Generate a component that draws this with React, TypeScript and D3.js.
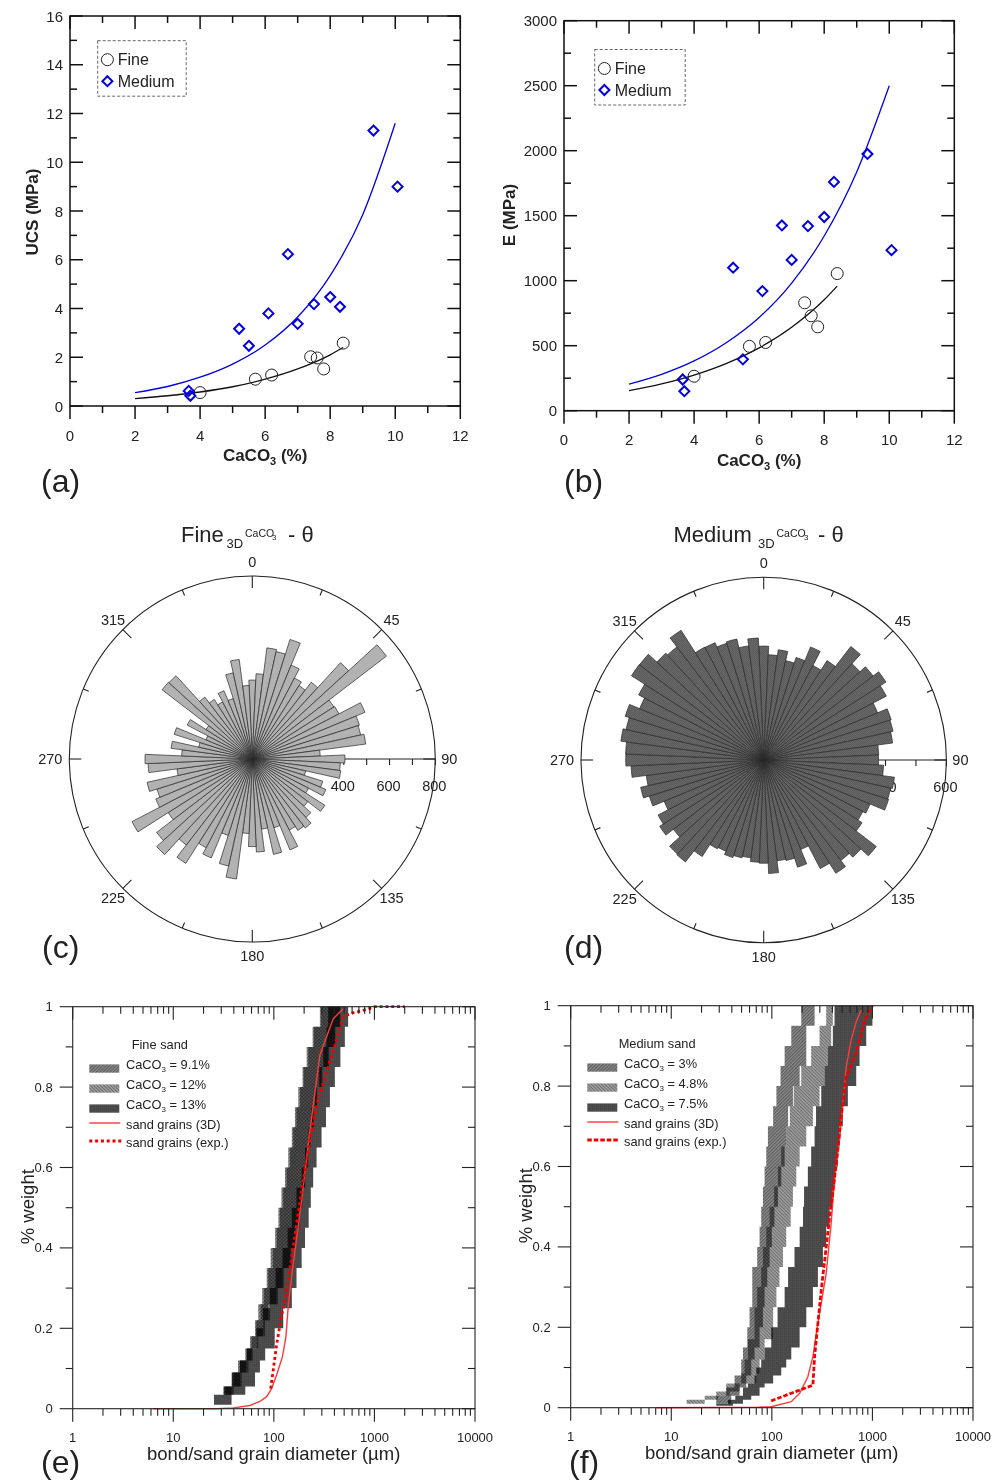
import React from 'react';
import * as d3 from 'd3';

// --- panels (a) and (b)
const caFine = [4, 5.7, 6.2, 7.4, 7.6, 7.8, 8.4];
const ucsFine = [0.55, 1.1, 1.27, 2.02, 1.97, 1.52, 2.58];
const eFine = [265, 495, 525, 830, 730, 645, 1055];
const caMedium = [3.65, 3.7, 5.2, 5.5, 6.1, 6.7, 7, 7.5, 8, 8.3, 9.33, 10.07];
const ucsMedium = [0.62, 0.42, 3.17, 2.47, 3.8, 6.23, 3.37, 4.18, 4.47, 4.07, 11.3, 9];
const eMedium = [240, 150, 1100, 395, 920, 1425, 1160, 1420, 1490, 1760, 1975, 1235];

const fitFineX = [2, 3, 4, 5, 6, 7, 8, 8.4];
const fitMediumX = [2, 3, 4, 5, 6, 7, 8, 9, 10];
const ucsFitFine = [0.3, 0.42, 0.575, 0.79, 1.1, 1.52, 2.1, 2.4];
const ucsFitMedium = [0.55, 0.8, 1.18, 1.72, 2.5, 3.65, 5.35, 7.85, 11.6];
const eFitFine = [155, 206, 274, 364, 483, 642, 853, 958];
const eFitMedium = [205, 280, 383, 525, 717, 982, 1344, 1837, 2500];

// --- panels (c) and (d): one value per 5 degree bin, clockwise from north
const roseFine = [
  345, 373, 490, 481, 548, 444, 399, 380, 423, 571, 739, 423, 427, 533, 491, 485, 500, 297,
  405, 385, 390, 239, 323, 348, 277, 376, 306, 347, 380, 370, 350, 430, 315, 427, 309, 407,
  383, 326, 529, 479, 350, 468, 437, 541, 474, 567, 527, 436, 593, 457, 437, 471, 332, 456,
  469, 309, 358, 240, 358, 219, 321, 240, 497, 494, 341, 309, 281, 323, 277, 386, 439, 322,
];
const roseMedium = [
  374, 346, 365, 334, 353, 402, 350, 387, 470, 429, 453, 476, 454, 405, 439, 435, 427, 378,
  377, 394, 433, 427, 430, 378, 367, 383, 466, 433, 416, 441, 402, 318, 369, 338, 334, 373,
  339, 336, 324, 329, 336, 324, 329, 376, 422, 419, 374, 405, 391, 354, 394, 414, 389, 436,
  453, 454, 473, 463, 477, 441, 463, 515, 514, 476, 468, 505, 418, 417, 402, 407, 378, 401,
];

// --- panel (e): grain size bands
const eLevelsA = [0.035, 0.055, 0.09, 0.12, 0.15, 0.18, 0.22, 0.26, 0.3, 0.35, 0.4, 0.45, 0.5, 0.55, 0.6, 0.65, 0.7, 0.75, 0.8, 0.85, 0.9, 0.95, 1];
const eLoA = [25, 31.4, 38, 44, 52, 58, 65, 70, 76.6, 85, 93, 103, 111, 119, 129, 139, 151, 162, 175, 193, 212, 243, 287];
const eHiA = [32, 38, 46, 53, 60, 67, 78, 88, 106, 122, 145, 162, 175, 189, 204, 215, 228, 246, 266, 298, 347, 404, 453];
const eLoB = [26, 33, 40, 46, 54, 60, 67, 74, 80, 88, 98, 107, 115, 124, 134, 145, 156, 168, 182, 198, 220, 250, 295];
const eHiB = [33, 40, 48, 56, 62, 70, 82, 92, 110, 126, 150, 165, 180, 192, 206, 220, 232, 250, 270, 305, 355, 410, 460];
const eLevelsC = [0.01, 0.035, 0.055, 0.09, 0.12, 0.15, 0.2, 0.25, 0.3, 0.35, 0.4, 0.45, 0.5, 0.55, 0.6, 0.65, 0.7, 0.75, 0.8, 0.85, 0.9, 0.95, 1];
const eLoC = [19.2, 25.4, 32, 38.4, 46, 53.6, 67, 78, 91, 104, 122, 137, 151, 168, 189, 204, 222, 237, 256, 283, 310, 334, 347];
const eHiC = [25, 38, 52, 65, 72.7, 82, 102, 124, 151, 168, 189, 204, 222, 233, 246, 266, 298, 330, 361, 404, 459, 508, 548];
const eSolidD = [6.3, 27, 39.5, 57.8, 72.7, 84.7, 95, 108, 122, 132, 139.5, 154, 189, 228, 287, 389, 489];
const eSolidW = [0, 0, 0.002, 0.008, 0.018, 0.03, 0.05, 0.088, 0.13, 0.18, 0.26, 0.35, 0.52, 0.69, 0.88, 0.97, 0.995];
const eDotD = [93, 98.6, 106, 119, 134, 156, 189, 228, 275, 347, 420, 489, 615, 836, 1000, 2000];
const eDotW = [0.05, 0.096, 0.155, 0.23, 0.295, 0.403, 0.544, 0.668, 0.768, 0.85, 0.917, 0.975, 0.985, 0.993, 1, 1];

// --- panel (f)
const fLevelsA = [0.01, 0.03, 0.05, 0.08, 0.12, 0.15, 0.2, 0.25, 0.3, 0.35, 0.4, 0.45, 0.5, 0.55, 0.6, 0.65, 0.7, 0.75, 0.8, 0.85, 0.9, 0.95, 1];
const fLoA = [21.5, 28, 35.2, 42.6, 49.6, 51.6, 57, 60, 63.9, 63.9, 71.5, 75.5, 78.4, 81.5, 84.7, 88, 91.4, 103, 111, 122, 134, 156, 196];
const fHiA = [29.1, 39.5, 47.8, 55.7, 62.4, 67.3, 75.5, 81.5, 84.7, 90, 95, 100, 106, 115, 124, 134, 139, 145, 162, 189, 220, 220, 266];
const fLevelsB = [0.01, 0.02, 0.03, 0.04, 0.06, 0.085, 0.12, 0.17, 0.25, 0.3, 0.35, 0.4, 0.45, 0.5, 0.55, 0.6, 0.65, 0.7, 0.75, 0.8, 0.85, 0.9, 0.95, 1];
const fLoB = [7.1, 14.2, 21.5, 28, 35.2, 49.6, 53.6, 57.8, 67.3, 71.5, 78.4, 81.5, 88, 95, 105, 115, 124, 139, 151, 165, 196, 246, 298, 347];
const fHiB = [14.2, 21.5, 29.1, 38, 47.8, 70, 75.5, 84.7, 103, 111, 119, 129, 139, 154, 162, 175, 189, 220, 256, 298, 334, 361, 389, 404];
const fLevelsC = [0.005, 0.01, 0.02, 0.03, 0.05, 0.06, 0.08, 0.1, 0.12, 0.15, 0.2, 0.25, 0.3, 0.35, 0.4, 0.45, 0.5, 0.55, 0.6, 0.65, 0.7, 0.75, 0.8, 0.85, 0.9, 0.95, 1];
const fLoC = [20.7, 28, 36.6, 43.3, 51.6, 57.8, 67.3, 70, 78.4, 84.7, 98.6, 114, 134, 145, 168, 189, 204, 209, 228, 246, 266, 275, 310, 334, 361, 404, 420];
const fHiC = [36.6, 41, 51.6, 62.4, 75.5, 84.7, 103, 124, 139, 156, 189, 220, 256, 287, 322, 347, 375, 404, 427, 453, 471, 508, 570, 690, 745, 868, 1000];
const fSolidD = [7.1, 72.7, 98.6, 156, 189, 228, 256, 287, 347, 389, 420, 471, 549, 615, 690, 772];
const fSolidW = [0, 0.001, 0.0025, 0.015, 0.036, 0.077, 0.127, 0.21, 0.334, 0.459, 0.566, 0.666, 0.848, 0.915, 0.96, 0.989];
const fDotD = [98.6, 156, 256, 266, 287, 310, 347, 389, 438, 489, 549, 690, 836, 1000];
const fDotW = [0.017, 0.036, 0.056, 0.127, 0.21, 0.293, 0.4, 0.508, 0.608, 0.724, 0.823, 0.882, 0.964, 1];

const font = '"Liberation Sans", Arial, sans-serif';
const ink = '#222';

function Diamond({ x, y }: { x: number; y: number }) {
  return <path d={`M${x},${y - 5}L${x + 5},${y}L${x},${y + 5}L${x - 5},${y}Z`} fill="none" stroke="#0000e0" strokeWidth={2} />;
}

function CaTitle({ x, y }: { x: number; y: number }) {
  return (
    <text x={x} y={y} textAnchor="middle" fontSize={17} fontWeight="bold" fill={ink}>
      CaCO<tspan fontSize={11} dy={4}>3</tspan><tspan dy={-4}> (%)</tspan>
    </text>
  );
}

function Scatter(props: any) {
  const { left, right, top, bottom, yMax, yStep, fine, medium, fitFine, fitMedium, yTitle, yTitleX, yTitleY, xLabelY, xTitleY, box } = props;
  const x = d3.scaleLinear().domain([0, 12]).range([left, right]);
  const y = d3.scaleLinear().domain([0, yMax]).range([bottom, top]);
  const line = d3.line<number>().x((_, i) => x(fitFineX[i])).y(d => y(d)).curve(d3.curveMonotoneX);
  const lineM = d3.line<number>().x((_, i) => x(fitMediumX[i])).y(d => y(d)).curve(d3.curveMonotoneX);
  const xTicks = d3.range(0, 13);
  const yTicks = d3.range(0, yMax + yStep / 4, yStep / 2);
  return (
    <g>
      <path d={line(fitFine) || ''} fill="none" stroke="#111" strokeWidth={1.3} />
      <path d={lineM(fitMedium) || ''} fill="none" stroke="#0000e0" strokeWidth={1.3} />
      {xTicks.map(t => {
        const major = t % 2 === 0;
        return (
          <g key={t} stroke="#111" strokeWidth={1.5}>
            <line x1={x(t)} x2={x(t)} y1={bottom} y2={bottom + (major ? 13 : 7)} />
            <line x1={x(t)} x2={x(t)} y1={top} y2={top + (major ? 13 : 7)} />
          </g>
        );
      })}
      {yTicks.map((t, i) => {
        const len = i % 2 === 0 ? 13 : 7;
        return (
          <g key={t} stroke="#111" strokeWidth={1.5}>
            <line x1={left} x2={left + len} y1={y(t)} y2={y(t)} />
            <line x1={right} x2={right - len} y1={y(t)} y2={y(t)} />
          </g>
        );
      })}
      <rect x={left} y={top} width={right - left} height={bottom - top} fill="none" stroke="#111" strokeWidth={1.5} />
      {xTicks.filter(t => t % 2 === 0).map(t => (
        <text key={t} x={x(t)} y={xLabelY} textAnchor="middle" fontSize={15} fill={ink}>{t}</text>
      ))}
      {yTicks.filter((_, i) => i % 2 === 0).map(t => (
        <text key={t} x={left - 7} y={y(t) + 5.5} textAnchor="end" fontSize={15} fill={ink}>{t}</text>
      ))}
      <CaTitle x={x(6)} y={xTitleY} />
      <text transform={`translate(${yTitleX},${yTitleY}) rotate(-90)`} textAnchor="middle" fontSize={17} fontWeight="bold" fill={ink}>{yTitle}</text>
      {caFine.map((c, i) => <circle key={i} cx={x(c)} cy={y(fine[i])} r={6} fill="none" stroke={ink} strokeWidth={1} />)}
      {caMedium.map((c, i) => <Diamond key={i} x={x(c)} y={y(medium[i])} />)}
      <rect x={box[0]} y={box[1]} width={box[2]} height={55.5} fill="none" stroke="#555" strokeWidth={0.9} strokeDasharray="3 2" />
      <circle cx={box[0] + 9.7} cy={box[1] + 19} r={6} fill="none" stroke={ink} strokeWidth={1} />
      <Diamond x={box[0] + 9.7} y={box[1] + 40.5} />
      <text x={box[0] + 20} y={box[1] + 24.5} fontSize={16} fill={ink}>Fine</text>
      <text x={box[0] + 20} y={box[1] + 46} fontSize={16} fill={ink}>Medium</text>
    </g>
  );
}

function Rose(props: any) {
  const { cx, cy, radius, values, max, fill, labels, axisTicks, title } = props;
  const r = d3.scaleLinear().domain([0, max]).range([0, radius]);
  const arc = d3.arc();
  const ringTicks = d3.range(0, 360, 22.5);
  const toXY = (deg: number, rad: number) => [
    cx + rad * Math.sin((deg * Math.PI) / 180),
    cy - rad * Math.cos((deg * Math.PI) / 180),
  ];
  return (
    <g>
      {title}
      <circle cx={cx} cy={cy} r={radius} fill="none" stroke={ink} strokeWidth={1.1} />
      {ringTicks.map(a => {
        const major = a % 45 === 0;
        const [x1, y1] = toXY(a, radius);
        const [x2, y2] = toXY(a, radius - (major ? 12 : 6));
        return <line key={a} x1={x1} y1={y1} x2={x2} y2={y2} stroke={ink} strokeWidth={1.1} />;
      })}
      {[0, 45, 90, 135, 180, 225, 270, 315].map(a => {
        const [lx, ly] = toXY(a, radius + (a === 270 ? 19 : 14));
        return <text key={a} x={lx} y={ly + 5} textAnchor="middle" fontSize={14.5} fill={ink}>{a}</text>;
      })}
      <line x1={cx} y1={cy} x2={cx + radius} y2={cy} stroke={ink} strokeWidth={1.1} />
      {axisTicks.map((t: number) => (
        <line key={t} x1={cx + r(t)} x2={cx + r(t)} y1={cy} y2={cy + 6} stroke={ink} strokeWidth={1.1} />
      ))}
      {labels.map((t: number) => (
        <text key={t} x={cx + r(t) - 1} y={cy + 32} textAnchor="middle" fontSize={14.5} fill={ink}>{t}</text>
      ))}
      <g transform={`translate(${cx},${cy})`}>
        {values.map((v: number, i: number) => (
          <path
            key={i}
            d={arc({ innerRadius: 0, outerRadius: r(v), startAngle: ((i * 5 - 2.5) * Math.PI) / 180, endAngle: ((i * 5 + 2.5) * Math.PI) / 180 } as any) || ''}
            fill={fill}
            stroke="#2a2a2a"
            strokeWidth={0.7}
          />
        ))}
      </g>
    </g>
  );
}

function Band({ x, y, levels, lo, hi, fill }: any) {
  const area = d3.area<number>()
    .y((d) => y(d))
    .x0((_, i) => x(lo[i]))
    .x1((_, i) => x(hi[i]))
    .curve(d3.curveStepAfter);
  return <path d={area(levels) || ''} fill={fill} style={{ mixBlendMode: 'multiply' }} />;
}

function Grain(props: any) {
  const { left, right, top, bottom, bands, solid, dot, dash, legendTitle, legendTitleX, legendItems, legendDy } = props;
  const x = d3.scaleLog().domain([1, 10000]).range([left, right]);
  const y = d3.scaleLinear().domain([0, 1]).range([bottom, top]);
  const line = (ds: number[], ws: number[]) =>
    d3.line<number>().x(d => x(d)).y((_, i) => y(ws[i]))(ds) || '';
  const xTicks = x.ticks();
  const majors = [1, 10, 100, 1000, 10000];
  const yTicks = d3.range(0, 11).map(d => d / 10);
  const lx = left + 16.6;
  const tx = left + 53.3;
  const base = top + 61.3 + legendDy;
  return (
    <g>
      {bands.map((b: any, i: number) => <Band key={i} x={x} y={y} {...b} />)}
      <path d={line(solid[0], solid[1])} fill="none" stroke="#ff3a3a" strokeWidth={1.4} />
      <path d={line(dot[0], dot[1])} fill="none" stroke="#f00000" strokeWidth={2.8} strokeDasharray={dash} />
      {xTicks.map(t => {
        const len = majors.includes(t) ? 13 : 7;
        return (
          <g key={t} stroke={ink} strokeWidth={1.1}>
            <line x1={x(t)} x2={x(t)} y1={bottom} y2={bottom + len} />
            <line x1={x(t)} x2={x(t)} y1={top} y2={top + len} />
          </g>
        );
      })}
      {yTicks.map((t, i) => {
        const len = i % 2 === 0 ? 13 : 7;
        return (
          <g key={t} stroke={ink} strokeWidth={1.1}>
            <line x1={left - len} x2={left} y1={y(t)} y2={y(t)} />
            <line x1={right - len} x2={right} y1={y(t)} y2={y(t)} />
          </g>
        );
      })}
      <rect x={left} y={top} width={right - left} height={bottom - top} fill="none" stroke={ink} strokeWidth={1.1} />
      {majors.map(t => (
        <text key={t} x={x(t)} y={bottom + 33} textAnchor="middle" fontSize={13} fill={ink}>{t}</text>
      ))}
      {yTicks.filter((_, i) => i % 2 === 0).map(t => (
        <text key={t} x={left - 20} y={y(t) + 4.5} textAnchor="end" fontSize={13} fill={ink}>{t}</text>
      ))}
      <text x={left + 201} y={bottom + 51.5} textAnchor="middle" fontSize={18.5} fill={ink}>bond/sand grain diameter (µm)</text>
      <text transform={`translate(${left - 45},${top + 200}) rotate(-90)`} y={6} textAnchor="middle" fontSize={18.5} fill={ink}>% weight</text>
      <text x={legendTitleX} y={base - 19} fontSize={12.8} fill={ink}>{legendTitle}</text>
      {legendItems.map((item: any, i: number) => (
        <g key={i}>
          <rect x={lx} y={base - 3.6 + i * 20} width={30} height={8.3} fill={item.fill} />
          <text x={tx} y={base + 0.5 + i * 20} fontSize={12.8} fill={ink}>
            {'CaCO'}<tspan fontSize={8} dy={3}>3</tspan><tspan dy={-3}>{` = ${item.label}`}</tspan>
          </text>
        </g>
      ))}
      <line x1={lx} x2={lx + 31} y1={base + 55} y2={base + 55} stroke="#ff3a3a" strokeWidth={1.4} />
      <text x={tx} y={base + 60.5} fontSize={12.8} fill={ink}>sand grains (3D)</text>
      <line x1={lx} x2={lx + 32} y1={base + 73} y2={base + 73} stroke="#f00000" strokeWidth={2.8} strokeDasharray={dash} />
      <text x={tx} y={base + 78.5} fontSize={12.8} fill={ink}>sand grains (exp.)</text>
    </g>
  );
}

function PanelTag({ x, y, children }: any) {
  return <text x={x} y={y} fontSize={32} fill={ink}>{children}</text>;
}

export default function App() {
  const hatchA = 'url(#hatchA)';
  const hatchB = 'url(#hatchB)';
  const hatchC = 'url(#hatchC)';
  return (
    <svg width={996} height={1481} style={{ position: 'absolute', left: 0, top: 0, fontFamily: font }}>
      <defs>
        <pattern id="hatchA" width={2.4} height={2.4} patternUnits="userSpaceOnUse" patternTransform="rotate(-45)">
          <rect width={2.4} height={2.4} fill="#8c8c8c" />
          <rect width={2.4} height={1.1} fill="#5a5a5a" />
        </pattern>
        <pattern id="hatchB" width={2.4} height={2.4} patternUnits="userSpaceOnUse" patternTransform="rotate(45)">
          <rect width={2.4} height={2.4} fill="#a0a0a0" />
          <rect width={2.4} height={1} fill="#6c6c6c" />
        </pattern>
        <pattern id="hatchC" width={2} height={2} patternUnits="userSpaceOnUse">
          <rect width={2} height={2} fill="#4c4c4c" />
          <rect width={1} height={1} fill="#454545" />
        </pattern>
        <pattern id="roseDark" width={2} height={2} patternUnits="userSpaceOnUse">
          <rect width={2} height={2} fill="#6e6e6e" />
          <rect width={1} height={1} fill="#555" />
          <rect x={1} y={1} width={1} height={1} fill="#555" />
        </pattern>
      </defs>
      <rect width={996} height={1481} fill="#fff" />

      <Scatter left={70} right={460.3} top={16} bottom={406} yMax={16} yStep={2}
        fine={ucsFine} medium={ucsMedium} fitFine={ucsFitFine} fitMedium={ucsFitMedium}
        yTitle="UCS (MPa)" yTitleX={38} yTitleY={212} xLabelY={440.5} xTitleY={461} box={[97.7, 40.7, 88.5]} />
      <Scatter left={564} right={954.3} top={20.7} bottom={410.7} yMax={3000} yStep={500}
        fine={eFine} medium={eMedium} fitFine={eFitFine} fitMedium={eFitMedium}
        yTitle="E (MPa)" yTitleX={515} yTitleY={215} xLabelY={445} xTitleY={465.5} box={[594.7, 49.5, 90.5]} />
      <PanelTag x={41} y={492}>(a)</PanelTag>
      <PanelTag x={564} y={492}>(b)</PanelTag>

      <Rose cx={252.3} cy={759} radius={183} values={roseFine} max={800} fill="#b2b2b2"
        axisTicks={[100, 200, 300, 400, 500, 600, 700, 800]} labels={[200, 400, 600, 800]}
        title={
          <text y={542} fontSize={22} fill={ink}>
            <tspan x={181}>Fine</tspan>
            <tspan x={226.5} y={548} fontSize={13}>3D</tspan>
            <tspan x={245} y={537} fontSize={10.5}>CaCO</tspan>
            <tspan x={272} y={540} fontSize={8}>3</tspan>
            <tspan x={282} y={542}> - θ</tspan>
          </text>
        } />
      <Rose cx={763.7} cy={760} radius={182.7} values={roseMedium} max={600} fill="url(#roseDark)"
        axisTicks={[100, 200, 300, 400, 500, 600]} labels={[400, 600]}
        title={
          <text y={542} fontSize={22} fill={ink}>
            <tspan x={673.5}>Medium</tspan>
            <tspan x={758} y={548} fontSize={13}>3D</tspan>
            <tspan x={776.5} y={537} fontSize={10.5}>CaCO</tspan>
            <tspan x={804} y={540} fontSize={8}>3</tspan>
            <tspan x={812} y={542}> - θ</tspan>
          </text>
        } />
      <PanelTag x={42} y={958}>(c)</PanelTag>
      <PanelTag x={564} y={958}>(d)</PanelTag>

      <Grain left={72.7} right={475} top={1006.7} bottom={1408.7}
        bands={[
          { levels: eLevelsA, lo: eLoA, hi: eHiA, fill: hatchA },
          { levels: eLevelsA, lo: eLoB, hi: eHiB, fill: hatchB },
          { levels: eLevelsC, lo: eLoC, hi: eHiC, fill: hatchC },
        ]}
        solid={[eSolidD, eSolidW]} dot={[eDotD, eDotW]} dash="3 2.8"
        legendTitle="Fine sand" legendTitleX={131.7} legendDy={0}
        legendItems={[
          { label: '9.1%', fill: hatchA },
          { label: '12%', fill: hatchB },
          { label: '13%', fill: hatchC },
        ]} />
      <Grain left={570.7} right={973} top={1005.7} bottom={1407.7}
        bands={[
          { levels: fLevelsA, lo: fLoA, hi: fHiA, fill: hatchA },
          { levels: fLevelsB, lo: fLoB, hi: fHiB, fill: hatchB },
          { levels: fLevelsC, lo: fLoC, hi: fHiC, fill: hatchC },
        ]}
        solid={[fSolidD, fSolidW]} dot={[fDotD, fDotW]} dash="4.5 2"
        legendTitle="Medium sand" legendTitleX={618.7} legendDy={0}
        legendItems={[
          { label: '3%', fill: hatchA },
          { label: '4.8%', fill: hatchB },
          { label: '7.5%', fill: hatchC },
        ]} />
      <PanelTag x={41} y={1473}>(e)</PanelTag>
      <PanelTag x={569} y={1473}>(f)</PanelTag>
    </svg>
  );
}
